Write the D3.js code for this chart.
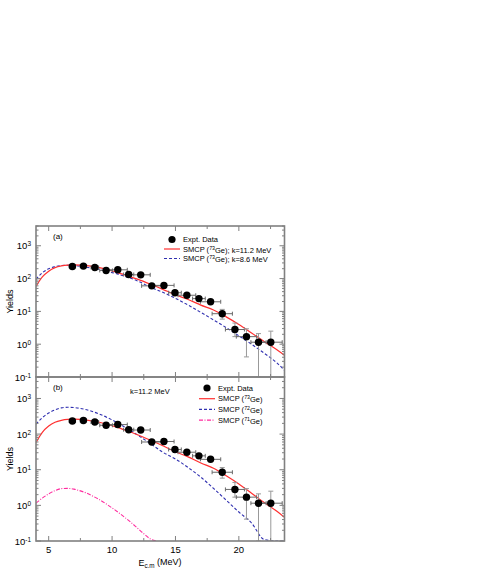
<!DOCTYPE html>
<html>
<head>
<meta charset="utf-8">
<script src="https://d3js.org/d3.v7.min.js"></script>
<style>
  body { margin: 0; background: #fff; }
  svg { display: block; font-family: "Liberation Sans", Arial, sans-serif; }
</style>
</head>
<body>
<div id="holder"></div>
<script>
  // Data
  const expE = [6.87, 7.74, 8.64, 9.53, 10.45, 11.31, 12.26, 13.13, 14.09, 14.96, 15.9, 16.85, 17.77, 18.69, 19.69, 20.6, 21.55, 22.52];
  const expY = [234, 240, 218, 177, 185, 133, 130, 60, 62, 37, 31, 24.5, 19.6, 8.5, 2.8, 1.7, 1.15, 1.15];
  const expDx = [0.25, 0.25, 0.3, 0.5, 0.75, 0.4, 0.75, 0.8, 0.8, 0.5, 0.7, 0.5, 0.8, 0.8, 0.75, 0.8, 0.6, 0.9];
  const expYLow = [null, null, null, null, null, null, null, null, null, null, null, null, null, 5.8, 1.7, 0.41, 0.01, 0.01];
  const expYHigh = [null, null, null, null, null, null, null, null, null, null, null, null, null, 11.5, 4.4, 2.95, 2.1, 2.5];

  const curveE = [4, 4.5, 5, 5.5, 6, 6.5, 7, 7.5, 8, 9, 10, 11, 12, 13, 14, 15, 16, 17, 18, 19, 20, 21, 22, 23, 23.6];
  const smcp73k112 = [58, 112, 168, 215, 243, 258, 262, 258, 248, 215, 172, 130, 96, 68, 47, 32, 23, 15.5, 11, 6.8, 4.0, 2.2, 1.2, 0.68, 0.46];
  const smcp73k86 = [95, 150, 198, 232, 250, 255, 250, 238, 222, 188, 152, 118, 85, 55, 38, 25, 15.5, 9.3, 5.5, 3.2, 1.8, 1.0, 0.53, 0.27, 0.16];
  const smcp72 = [190, 290, 390, 480, 545, 565, 555, 525, 480, 365, 250, 158, 95, 55, 31, 20, 11.5, 6.2, 3.0, 1.4, 0.65, 0.32, 0.11, 0.04, 0.02];

  const curve71E = [4, 4.5, 5, 5.5, 6, 6.5, 7, 7.5, 8, 8.5, 9, 9.5, 10, 10.5, 11, 11.5, 12, 12.5, 13, 13.5];
  const smcp71 = [1.15, 1.6, 2.1, 2.6, 2.95, 3.0, 2.85, 2.55, 2.2, 1.8, 1.45, 1.12, 0.85, 0.63, 0.46, 0.33, 0.23, 0.16, 0.115, 0.08];

  const xTicksMajor = [5, 10, 15, 20];
  const xTicksMinor = [7.5, 12.5, 17.5, 22.5];
  const yDecades = [-1, 0, 1, 2, 3];

  const W = 491, H = 572;
  const left = 36, right = 284.5;
  const frameColor = '#808080';
  const red = '#ff3030', blue = '#3030b0', magenta = '#ff2a9e';

  const svg = d3.select('#holder').append('svg').attr('width', W).attr('height', H);

  const x = d3.scaleLinear().domain([4, 23.6]).range([left, right]);

  function sup(textSel, base, exp) {
    textSel.append('tspan').text(base);
    textSel.append('tspan').attr('dy', '-0.45em').style('font-size', '0.68em').text(exp);
  }

  function drawPanel(top, bottom, curves, legend, label, note) {
    const y = d3.scaleLog().domain([0.1, 4000]).range([bottom, top]).clamp(true);
    const g = svg.append('g');

    const clipId = 'clip' + Math.round(top);
    svg.append('clipPath').attr('id', clipId)
      .append('rect').attr('x', left).attr('y', top).attr('width', right - left).attr('height', bottom - top);

    // curves
    const plot = g.append('g').attr('clip-path', 'url(#' + clipId + ')');
    curves.forEach((c) => {
      const line = d3.line()
        .x((d, i) => x(c.e[i]))
        .y((d) => y(d))
        .curve(d3.curveMonotoneX);
      plot.append('path')
        .datum(c.v)
        .attr('d', line)
        .attr('fill', 'none')
        .attr('stroke', c.color)
        .attr('stroke-width', c.dash ? 1.1 : 1.2)
        .attr('stroke-dasharray', c.dash);
    });

    // error bars
    const eb = plot.append('g').attr('stroke', '#6a6a6a').attr('stroke-width', 1);
    expE.forEach((e, i) => {
      const cy = y(expY[i]);
      const x0 = x(e - expDx[i]), x1 = x(e + expDx[i]);
      eb.append('line').attr('x1', x0).attr('x2', x1).attr('y1', cy).attr('y2', cy);
      eb.append('line').attr('x1', x0).attr('x2', x0).attr('y1', cy - 2).attr('y2', cy + 2);
      eb.append('line').attr('x1', x1).attr('x2', x1).attr('y1', cy - 2).attr('y2', cy + 2);
      if (expYLow[i] !== null) {
        const cx = x(e);
        const ylo = y(expYLow[i]), yhi = y(expYHigh[i]);
        eb.append('line').attr('x1', cx).attr('x2', cx).attr('y1', ylo).attr('y2', yhi).attr('stroke', '#999');
        eb.append('line').attr('x1', cx - 2.5).attr('x2', cx + 2.5).attr('y1', yhi).attr('y2', yhi).attr('stroke', '#999');
        eb.append('line').attr('x1', cx - 2.5).attr('x2', cx + 2.5).attr('y1', ylo).attr('y2', ylo).attr('stroke', '#999');
      }
    });

    plot.selectAll('circle.dot')
      .data(expE)
      .enter()
      .append('circle')
      .attr('class', 'dot')
      .attr('cx', (d) => x(d))
      .attr('cy', (d, i) => y(expY[i]))
      .attr('r', 3.7)
      .attr('fill', '#000');

    // frame and ticks
    const fr = g.append('g').attr('stroke', frameColor).attr('fill', 'none');
    fr.append('rect').attr('x', left).attr('y', top).attr('width', right - left).attr('height', bottom - top).attr('stroke-width', 1.6);
    xTicksMajor.concat(xTicksMinor).forEach((t) => {
      const len = xTicksMajor.includes(t) ? 5 : 3;
      fr.append('line').attr('x1', x(t)).attr('x2', x(t)).attr('y1', top).attr('y2', top + len);
      fr.append('line').attr('x1', x(t)).attr('x2', x(t)).attr('y1', bottom).attr('y2', bottom - len);
    });
    yDecades.forEach((d) => {
      const yy = y(Math.pow(10, d));
      fr.append('line').attr('x1', left).attr('x2', left + 5).attr('y1', yy).attr('y2', yy);
      fr.append('line').attr('x1', right).attr('x2', right - 5).attr('y1', yy).attr('y2', yy);
      for (let m = 2; m <= 9; m++) {
        const v = m * Math.pow(10, d);
        if (v > 4000) break;
        const ym = y(v);
        fr.append('line').attr('x1', left).attr('x2', left + 2.5).attr('y1', ym).attr('y2', ym);
        fr.append('line').attr('x1', right).attr('x2', right - 2.5).attr('y1', ym).attr('y2', ym);
      }
      const lab = g.append('text')
        .attr('x', 31)
        .attr('y', yy + 3.5)
        .attr('text-anchor', 'end')
        .style('font-size', '9.5px')
        .attr('fill', '#000');
      sup(lab, '10', String(d));
    });

    // y label
    g.append('text')
      .attr('transform', 'translate(13,' + (top + bottom) / 2 + ') rotate(-90)')
      .attr('text-anchor', 'middle')
      .style('font-size', '9px')
      .text('Yields');

    // panel label and note
    g.append('text').attr('x', left + 17).attr('y', top + 13).style('font-size', '8px').text(label);
    if (note) g.append('text').attr('x', note.x).attr('y', note.y).style('font-size', '7.5px').text(note.text);

    // legend
    legend.items.forEach((it, i) => {
      const ly = legend.y + i * legend.dy;
      if (it.type === 'dot') {
        g.append('circle').attr('cx', legend.x + 8).attr('cy', ly).attr('r', 3.6).attr('fill', '#000');
      } else {
        g.append('line').attr('x1', legend.x).attr('x2', legend.x + 16).attr('y1', ly).attr('y2', ly)
          .attr('stroke', it.color).attr('stroke-width', 1.2).attr('stroke-dasharray', it.dash);
      }
      const t = g.append('text').attr('x', legend.x + 19).attr('y', ly + 2.7).style('font-size', '7.5px');
      if (it.iso) {
        t.append('tspan').text('SMCP (');
        t.append('tspan').attr('dy', '-0.4em').style('font-size', '0.7em').text(it.iso);
        t.append('tspan').attr('dy', '0.4em').text('Ge)' + (it.rest || ''));
      } else {
        t.text(it.text);
      }
    });
  }

  drawPanel(226, 377,
    [
      { e: curveE, v: smcp73k86, color: blue, dash: '3,2' },
      { e: curveE, v: smcp73k112, color: red, dash: null }
    ],
    {
      x: 164, y: 239.5, dy: 9.5,
      items: [
        { type: 'dot', text: 'Expt. Data' },
        { type: 'line', color: red, dash: null, iso: '73', rest: '; k=11.2 MeV' },
        { type: 'line', color: blue, dash: '3,2', iso: '73', rest: '; k=8.6 MeV' }
      ]
    },
    '(a)', null);

  drawPanel(377, 541,
    [
      { e: curveE, v: smcp72, color: blue, dash: '3,2' },
      { e: curve71E, v: smcp71, color: magenta, dash: '4,1.5,1,1.5' },
      { e: curveE, v: smcp73k112, color: red, dash: null }
    ],
    {
      x: 199, y: 388, dy: 10.7,
      items: [
        { type: 'dot', text: 'Expt. Data' },
        { type: 'line', color: red, dash: null, iso: '73' },
        { type: 'line', color: blue, dash: '3,2', iso: '72' },
        { type: 'line', color: magenta, dash: '4,1.5,1,1.5', iso: '71' }
      ]
    },
    '(b)', { x: 130, y: 394, text: 'k=11.2 MeV' });

  // x axis labels
  xTicksMajor.forEach((t) => {
    svg.append('text').attr('x', x(t)).attr('y', 553).attr('text-anchor', 'middle')
      .style('font-size', '9.5px').text(t);
  });
  const xl = svg.append('text').attr('x', 160).attr('y', 566).attr('text-anchor', 'middle').style('font-size', '9px');
  xl.append('tspan').text('E');
  xl.append('tspan').attr('dy', '0.3em').style('font-size', '0.7em').text('c.m');
  xl.append('tspan').attr('dy', '-0.3em').text(' (MeV)');
</script>
</body>
</html>
